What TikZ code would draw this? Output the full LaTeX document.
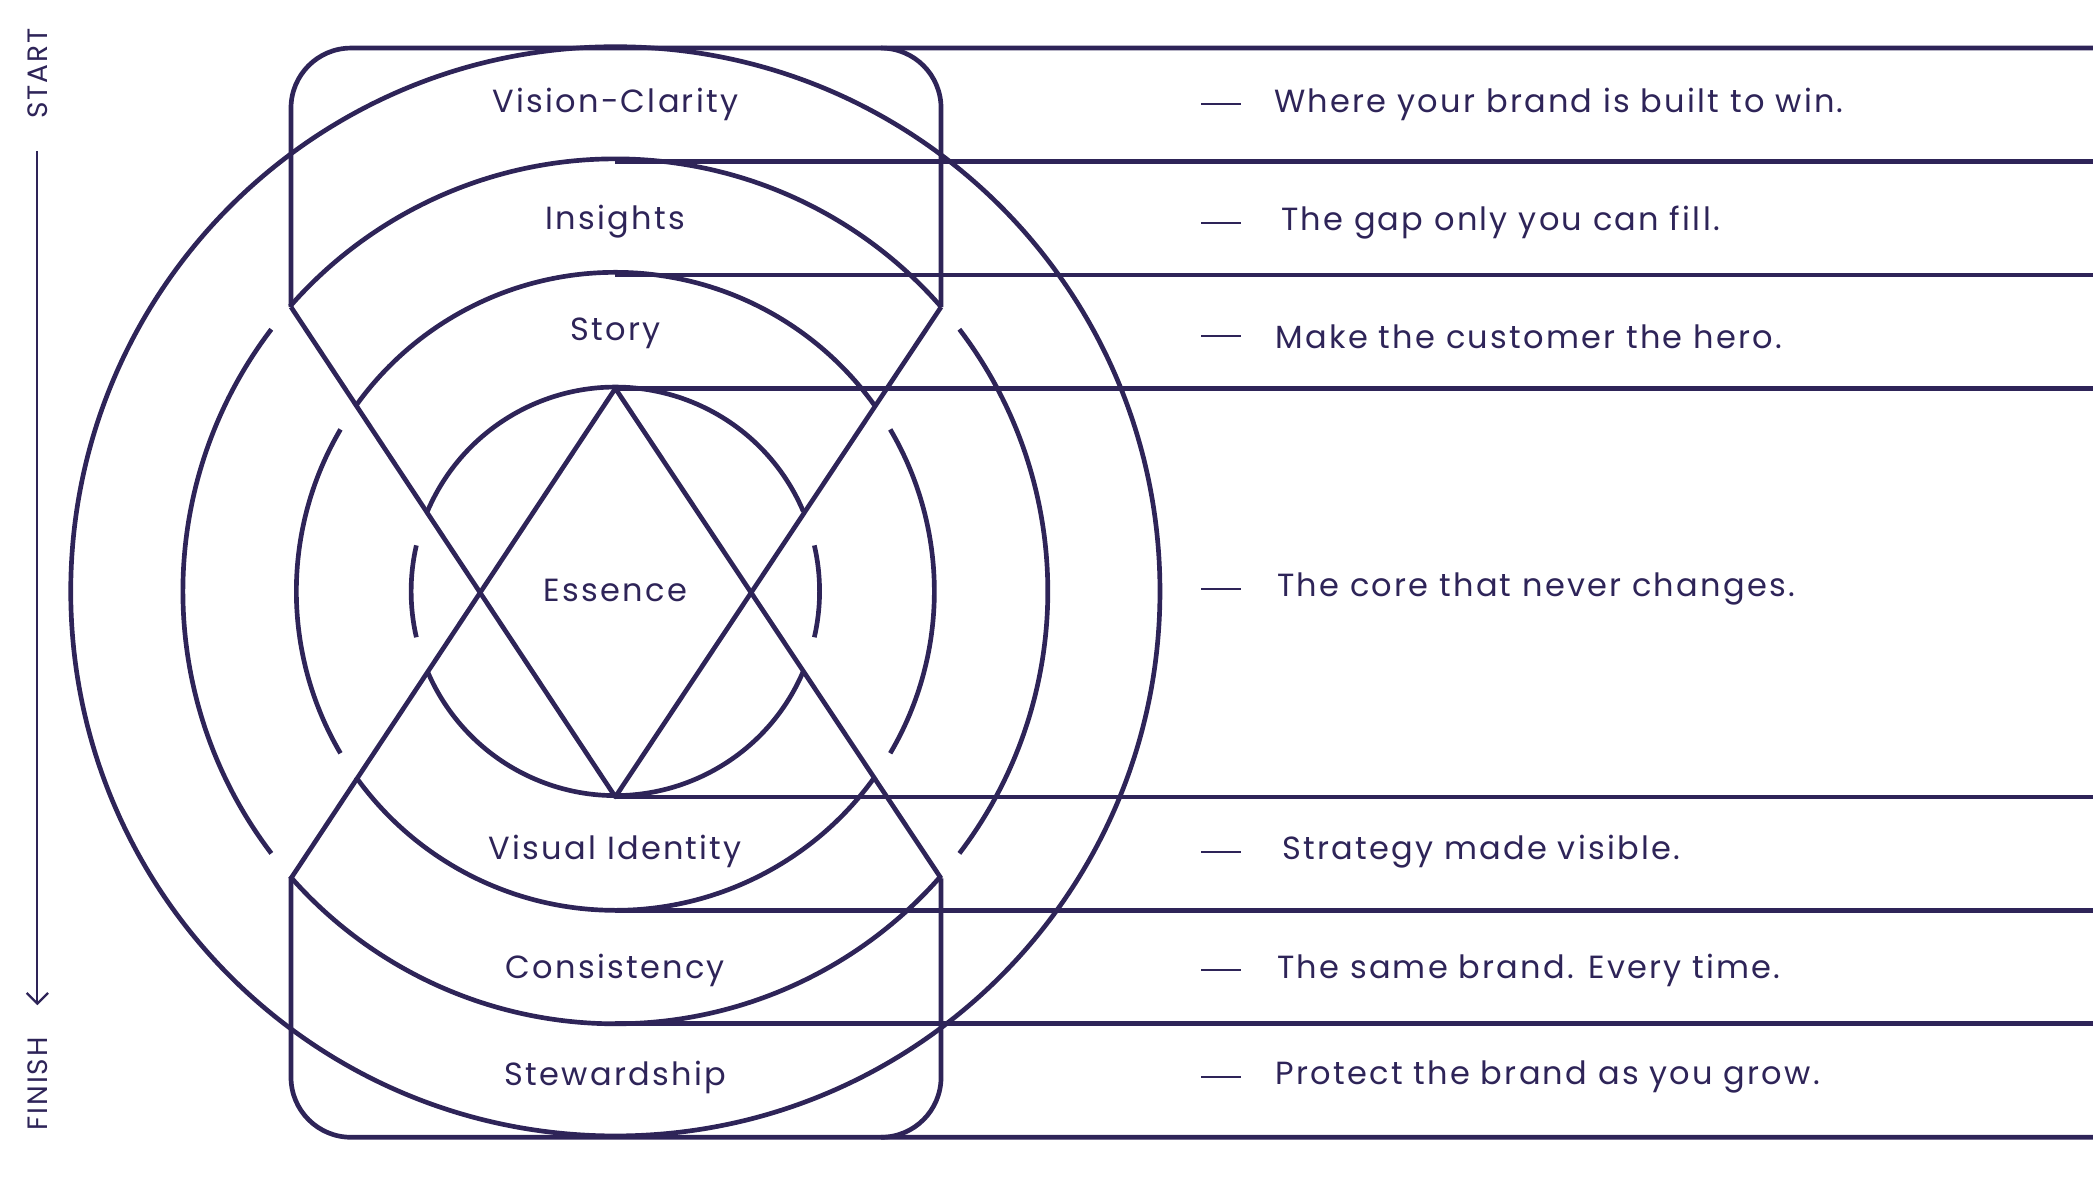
\documentclass[tikz,border=0pt]{standalone}
\usepackage{fontspec}
\setmainfont[LetterSpace=7]{Poppins}
\usetikzlibrary{arrows.meta}
\definecolor{ink}{HTML}{2E2458}
\begin{document}
\begin{tikzpicture}[x=1pt,y=-1pt,line width=3.5pt,draw=ink,
  lbl/.style={text=ink,font=\fontsize{24}{28}\selectfont,inner sep=0pt},
  desc/.style={lbl,anchor=west},
  dsh/.style={line width=1.6pt}]
\useasboundingbox (0,0) rectangle (1568,888);
\coordinate (C) at (461,443);
% outer circle
\draw[ink] (C) circle[radius=408];
% broken circles
\foreach \r/\a/\b in {153/23/13, 239/35.6/30.5, 324/41.2/37.3}{
  \draw[ink] ([shift={(-\a:\r)}]C) arc[start angle=-\a,end angle=-180+\a,radius=\r];
  \draw[ink] ([shift={(\a:\r)}]C) arc[start angle=\a,end angle=180-\a,radius=\r];
  \draw[ink] ([shift={(180-\b:\r)}]C) arc[start angle=180-\b,end angle=180+\b,radius=\r];
  \draw[ink] ([shift={(-\b:\r)}]C) arc[start angle=-\b,end angle=\b,radius=\r];
}
% star lines
\coordinate (tl) at (218,230); \coordinate (tr) at (705,230);
\coordinate (bl) at (218,658); \coordinate (br) at (705,658);
\coordinate (dt) at (461,291); \coordinate (db) at (461,597);
\draw[ink,line join=round] (tl) -- (db) -- (tr);
\draw[ink,line join=round] (bl) -- (dt) -- (br);
% rounded frame and rows
\draw[ink] (tl) -- (218,81) arc[start angle=180,end angle=270,radius=45] -- (1568,36);
\draw[ink] (tr) -- (705,81) arc[start angle=0,end angle=-90,radius=45];
\draw[ink] (bl) -- (218,807) arc[start angle=180,end angle=90,radius=45] -- (1568,852);
\draw[ink] (br) -- (705,807) arc[start angle=0,end angle=90,radius=45];
\foreach \y in {121,206,291,597,682,767} \draw[ink] (461,\y) -- (1568,\y);
% labels
\node[lbl] (l1) at (461,78) {Vision-Clarity};
\node[lbl] (l2) at (461,166) {Insights};
\node[lbl] (l3) at (461,250) {Story};
\node[lbl] (l4) at (461,442) {Essence};
\node[lbl] (l5) at (461,638) {Visual Identity};
\node[lbl] (l6) at (461,727) {Consistency};
\node[lbl] (l7) at (461,807) {Stewardship};
\foreach \y/\x/\t [count=\i] in {78/953/Where your brand is built to win.,
  167/958/The gap only you can fill.,
  252/954/Make the customer the hero.,
  441/955/The core that never changes.,
  638/959/Strategy made visible.,
  727/955/The same brand. Every time.,
  807/954/Protect the brand as you grow.}{
  \draw[ink,dsh] (900,\y) -- (930,\y);
  \node[desc] (d\i) at (\x,\y) {\t};
}
% start / finish
\node[lbl,rotate=90,font=\fontsize{21}{25}\selectfont] (st) at (28,55) {START};
\node[lbl,rotate=90,font=\fontsize{21}{25}\selectfont] (fi) at (28,812) {FINISH};
\draw[ink,line width=1.6pt,-{Straight Barb[length=8pt,width=16pt]}] (28,113) -- (28,753);
\end{tikzpicture}
\end{document}
